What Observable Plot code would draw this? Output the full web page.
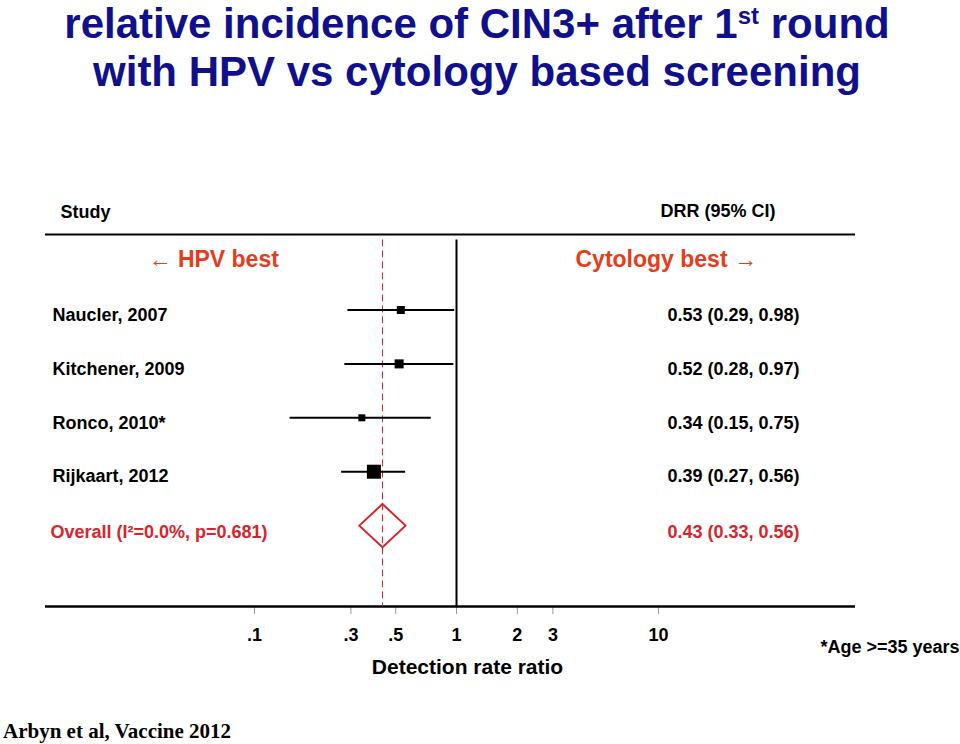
<!DOCTYPE html>
<html><head><meta charset="utf-8">
<script src="https://cdn.jsdelivr.net/npm/d3@7"></script>
<script src="https://cdn.jsdelivr.net/npm/@observablehq/plot@0.6"></script>
<style>
body{margin:0;background:#fff;}
#wrap{position:relative;width:960px;height:744px;overflow:hidden;background:#fff;}
#title{position:absolute;top:0;left:0;width:954px;text-align:center;color:#10108c;font-family:"Liberation Sans",Arial,sans-serif;font-weight:bold;font-size:42px;white-space:nowrap;}
#title div{height:48px;line-height:47px;}
#title sup{font-size:24px;line-height:0;vertical-align:0.6em;}
#chart{position:absolute;top:100px;left:0;}
#footer{position:absolute;left:3px;top:719px;font-family:"Liberation Serif","Times New Roman",serif;font-weight:bold;font-size:21px;color:#000;white-space:nowrap;}
</style>
</head><body>
<div id="wrap">
  <div id="title"><div>relative incidence of CIN3+ after 1<sup>st</sup> round</div><div>with HPV vs cytology based screening</div></div>
  <div id="chart"></div>
  <div id="footer">Arbyn et al, Vaccine 2012</div>
</div>
<script>
// ---- data ----
const studies = ["Naucler, 2007", "Kitchener, 2009", "Ronco, 2010*", "Rijkaart, 2012"];
const drr = [0.53, 0.52, 0.34, 0.39];
const ciLow = [0.29, 0.28, 0.15, 0.27];
const ciHigh = [0.98, 0.97, 0.75, 0.56];
const weights = [16.4, 20.8, 12.6, 50.2];
const overallLabel = "Overall (I\u00B2=0.0%, p=0.681)";
const overallDrr = 0.43;
const overallLow = 0.33;
const overallHigh = 0.56;
const tickValues = [0.1, 0.3, 0.5, 1, 2, 3, 10];
const tickLabels = [".1", ".3", ".5", "1", "2", "3", "10"];

// ---- derived tables ----
const fmt = v => v.toFixed(2);
const rows = studies.map((s, i) => ({
  study: s, drr: drr[i], lo: ciLow[i], hi: ciHigh[i], w: weights[i], row: i + 1,
  txt: `${fmt(drr[i])} (${fmt(ciLow[i])}, ${fmt(ciHigh[i])})`
}));
const overallRow = studies.length + 1;
const overall = [{label: overallLabel, row: overallRow, txt: `${fmt(overallDrr)} (${fmt(overallLow)}, ${fmt(overallHigh)})`}];
const dh = 0.4; // diamond half height (style)
const diamond = [
  {x: overallLow, y: overallRow}, {x: overallDrr, y: overallRow - dh},
  {x: overallHigh, y: overallRow}, {x: overallDrr, y: overallRow + dh},
  {x: overallLow, y: overallRow}
];
const ticks = tickValues.map((v, i) => ({v, label: tickLabels[i]}));
const yTop = -0.4, yBottom = 6.5;
const red = "#d8242b", orange = "#e63c1c";
const font = "'Liberation Sans', Arial, Helvetica, sans-serif";

const chart = Plot.plot({
  width: 960, height: 610,
  marginTop: 134, marginBottom: 104, marginLeft: 45, marginRight: 105,
  style: {fontFamily: font, fontWeight: "bold", background: "white", color: "black"},
  x: {type: "log", domain: [0.1, 10], range: [254, 658], axis: null},
  y: {domain: [yTop, yBottom], reverse: true, axis: null},
  r: {type: "sqrt", domain: [0, d3.max(weights)], range: [0, 7.9]},
  marks: [
    Plot.ruleY([yTop], {stroke: "black", strokeWidth: 2}),
    Plot.ruleX(ticks, {x: "v", y1: yBottom, y2: yBottom, insetBottom: -8, stroke: "#999", strokeWidth: 1}),
    Plot.ruleY([yBottom], {stroke: "black", strokeWidth: 2.5}),
    Plot.ruleX([1], {y1: yTop + 0.1, y2: yBottom, stroke: "black", strokeWidth: 2}),
    Plot.ruleX([overallDrr], {y1: yTop + 0.1, y2: yBottom, stroke: red, strokeWidth: 1, strokeDasharray: "7,4"}),
    Plot.ruleY(rows, {y: "row", x1: "lo", x2: "hi", stroke: "black", strokeWidth: 2}),
    Plot.dot(rows, {x: "drr", y: "row", r: "w", symbol: "square", fill: "black", stroke: "none"}),
    Plot.line(diamond, {x: "x", y: "y", stroke: red, strokeWidth: 2, curve: "linear"}),
    Plot.text(rows, {y: "row", text: "study", frameAnchor: "left", textAnchor: "start", dx: 7, dy: 5, fontSize: 18, fill: "black"}),
    Plot.text(rows, {y: "row", text: "txt", frameAnchor: "right", textAnchor: "start", dx: -188, dy: 5, fontSize: 18, fill: "black"}),
    Plot.text(overall, {y: "row", text: "label", frameAnchor: "left", textAnchor: "start", dx: 5, dy: 7, fontSize: 18, fill: red}),
    Plot.text(overall, {y: "row", text: "txt", frameAnchor: "right", textAnchor: "start", dx: -188, dy: 7, fontSize: 18, fill: red}),
    Plot.text(["Study"], {text: d => d, frameAnchor: "top-left", textAnchor: "start", dx: 15, dy: -22, lineAnchor: "middle", fontSize: 18, fill: "black"}),
    Plot.text(["DRR (95% CI)"], {text: d => d, frameAnchor: "top-right", textAnchor: "start", dx: -195, dy: -23, lineAnchor: "middle", fontSize: 18, fill: "black"}),
    Plot.text(["\u2190 HPV best"], {text: d => d, y: () => 0, frameAnchor: "left", textAnchor: "start", dx: 103, dy: 4, fontSize: 23, fill: orange}),
    Plot.text(["Cytology best \u2192"], {text: d => d, y: () => 0, frameAnchor: "right", textAnchor: "start", dx: -280, dy: 4, fontSize: 23, fill: orange}),
    Plot.text(ticks, {x: "v", text: "label", frameAnchor: "bottom", dy: 29, lineAnchor: "middle", fontSize: 18, fill: "black"}),
    Plot.text(["Detection rate ratio"], {text: d => d, frameAnchor: "bottom", dx: 17, dy: 61, lineAnchor: "middle", fontSize: 21, fill: "black"}),
    Plot.text(["*Age >=35 years"], {text: d => d, frameAnchor: "bottom-right", textAnchor: "start", dx: -35, dy: 41, lineAnchor: "middle", fontSize: 18, fill: "black"})
  ]
});
document.getElementById("chart").appendChild(chart);
</script>
</body></html>
